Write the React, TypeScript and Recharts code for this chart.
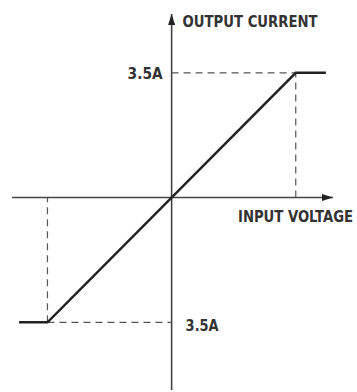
import React from "react";
import { LineChart, Line, XAxis, YAxis, ReferenceLine, ReferenceDot } from "recharts";

// transfer characteristic: current clamps at +-3.5A
const inputVoltage = [-4.3, -3.5, 3.5, 4.35];
const outputCurrent = [-3.5, -3.5, 3.5, 3.5];
const limitVoltage = 3.5;
const limitCurrent = 3.5;
const currentLabel = "3.5A";
const xTitle = "INPUT VOLTAGE";
const yTitle = "OUTPUT CURRENT";

const xDomain = [-4.5, 4.55];
const yDomain = [-5.4, 5.15];

const data = inputVoltage.map((v, i) => ({ v, a: outputCurrent[i] }));

const font = "'DejaVu Sans Condensed', 'Liberation Sans Narrow', sans-serif";
const ink = "#222";

const UpArrow = (p: any) => (
  <path d={`M${p.cx},${p.cy} L${p.cx - 3.5},${p.cy + 11} L${p.cx + 3.5},${p.cy + 11} Z`} fill={ink} />
);
const RightArrow = (p: any) => (
  <path d={`M${p.cx},${p.cy} L${p.cx - 11},${p.cy - 3.5} L${p.cx - 11},${p.cy + 3.5} Z`} fill={ink} />
);

// condensed lettering: squeeze each label to the width it has in the drawing
const label = (text: string, dx: number, dy: number, w: number) => (p: any) => (
  <text
    x={p.cx + dx}
    y={p.cy + dy}
    textAnchor="start"
    textLength={w}
    lengthAdjust="spacingAndGlyphs"
    fontFamily={font}
    fontWeight="bold"
    fontSize={15}
    fill="#333"
  >
    {text}
  </text>
);

const dash = { stroke: "#555", strokeWidth: 1.2, strokeDasharray: "7 5" };

export default function App() {
  return (
    <div style={{ position: "absolute", left: 0, top: 0, background: "#fff" }}>
      <LineChart width={357} height={392} data={data} margin={{ top: 14, right: 24, bottom: 2, left: 12 }}>
        <XAxis type="number" dataKey="v" domain={xDomain} allowDataOverflow hide />
        <YAxis type="number" domain={yDomain} allowDataOverflow hide />
        <ReferenceLine x={0} stroke="#444" strokeWidth={1.6} />
        <ReferenceLine y={0} stroke="#444" strokeWidth={1.6} />
        <ReferenceLine segment={[{ x: 0, y: limitCurrent }, { x: limitVoltage, y: limitCurrent }]} {...dash} />
        <ReferenceLine segment={[{ x: limitVoltage, y: 0 }, { x: limitVoltage, y: limitCurrent }]} {...dash} />
        <ReferenceLine segment={[{ x: -limitVoltage, y: -limitCurrent }, { x: 0, y: -limitCurrent }]} {...dash} />
        <ReferenceLine segment={[{ x: -limitVoltage, y: -limitCurrent }, { x: -limitVoltage, y: 0 }]} {...dash} />
        <Line type="linear" dataKey="a" stroke={ink} strokeWidth={2.4} dot={false} isAnimationActive={false} />
        <ReferenceDot x={0} y={yDomain[1]} shape={UpArrow} />
        <ReferenceDot x={xDomain[1]} y={0} shape={RightArrow} />
        <ReferenceDot x={0} y={yDomain[1]} shape={label(yTitle, 11, 13, 135)} />
        <ReferenceDot x={xDomain[1]} y={0} shape={label(xTitle, -95, 24, 115)} />
        <ReferenceDot x={0} y={limitCurrent} shape={label(currentLabel, -44, 6, 35)} />
        <ReferenceDot x={0} y={-limitCurrent} shape={label(currentLabel, 14, 9, 33)} />
      </LineChart>
    </div>
  );
}
